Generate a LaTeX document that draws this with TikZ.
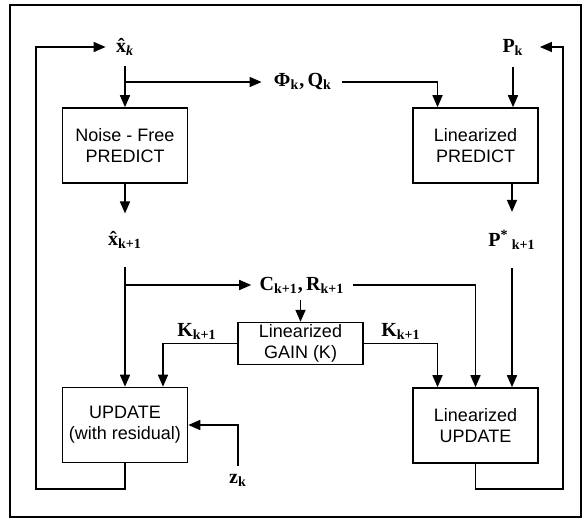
\documentclass[tikz,border=0pt]{standalone}
\usepackage{fontspec}
\setmainfont{Liberation Sans}
\newfontfamily\symfont{Liberation Serif}
\usetikzlibrary{arrows.meta,calc}

\begin{document}
\begin{tikzpicture}[
  x=0.5pt, y=-0.5pt,
  box/.style={draw, line width=0.8pt, align=center, inner sep=1pt,
              font=\fontsize{9}{10.5}\selectfont},
  big/.style={box, minimum width=62.5pt, minimum height=37.5pt},
  flat/.style={box, minimum width=62.5pt, minimum height=19.5pt},
  sym/.style={font=\symfont\bfseries\fontsize{10}{12}\selectfont, inner sep=1pt},
  arr/.style={-{Triangle[length=6pt,width=5pt]}, line width=0.8pt}
]
\useasboundingbox (0,0) rectangle (582,519);
\draw[line width=1pt] (10,5) rectangle (581,517);

% prediction row
\node[sym] (xk) at (125,47) {\^{x}\textsubscript{\itshape k}};
\node[sym] (pk) at (513,47) {P\textsubscript{k}};
\node[big] (nfp) at (125,145.5) {Noise - Free\\PREDICT};
\node[big] (lp) at (475.5,145.5) {Linearized\\PREDICT};
\node[sym] (phiq) at (303,82) {Φ\textsubscript{k},\,Q\textsubscript{k}};
\node[sym] (xk1) at (125,240) {\^{x}\textsubscript{k+1}};
\node[sym] (pk1) at (512,240) {P\textsuperscript{*}\,\textsubscript{k+1}};

% gain and update row
\node[sym] (cr) at (302,285) {C\textsubscript{k+1},\,R\textsubscript{k+1}};
\node[flat] (gain) at (300.5,343.5) {Linearized\\GAIN (K)};
\node[sym] (kl) at (197,331) {K\textsubscript{k+1}};
\node[sym] (kr) at (401,331) {K\textsubscript{k+1}};
\node[big] (upd) at (125,425) {UPDATE\\(with residual)};
\node[big] (lu) at (475.5,425.5) {Linearized\\UPDATE};
\node[sym] (zk) at (238,480) {z\textsubscript{k}};
\coordinate (ll) at (36,489);
\coordinate (rr) at (563,489);

\draw[arr, shorten <=4pt] (xk) -- (nfp);
\draw[arr, shorten >=5pt] (nfp |- phiq) -- (phiq.west);
\draw[arr, shorten <=4pt] (phiq.east) -| ($(lp.north west)!0.2!(lp.north east)$);
\draw[arr, shorten <=5pt] (pk) -- (pk |- lp.north);
\draw[arr, shorten >=8pt] (nfp) -- (xk1);
\draw[arr, shorten >=8pt] (pk1 |- lp.south) -- (pk1);
\draw[arr, shorten <=8pt] (xk1) -- (upd);
\draw[arr, shorten >=3pt] (xk1 |- cr) -- (cr.west);
\draw[arr, shorten <=3pt] (cr.east) -| (lu.north);
\draw[arr, shorten <=8pt] (pk1) -- (pk1 |- lu.north);
\draw[arr, shorten <=2pt] (gain |- cr.south) -- (gain.north);
\draw[arr] (gain.west) -| ($(upd.north west)!0.8!(upd.north east)$);
\draw[arr] (gain.east) -| ($(lu.north west)!0.2!(lu.north east)$);
\draw[arr, shorten <=3pt] (zk.north) |- (upd.east);
\draw[arr, shorten >=4pt] (upd.south) |- (ll) |- (xk.west);
\draw[arr, shorten >=7pt] (lu.south) |- (rr) |- (pk.east);
\end{tikzpicture}
\end{document}
